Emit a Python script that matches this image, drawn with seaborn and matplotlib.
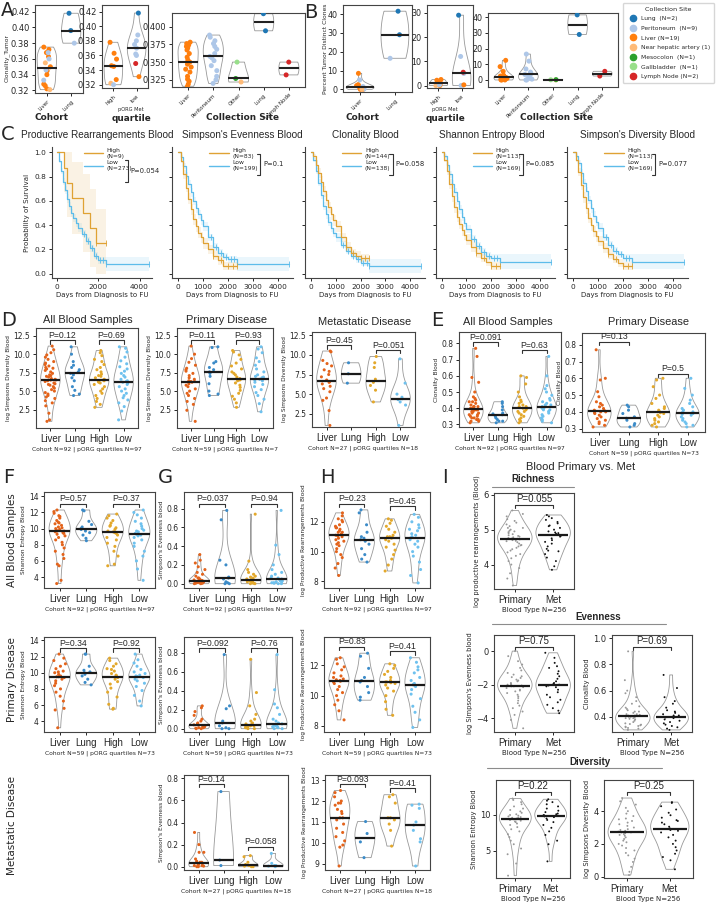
import numpy as np
import pandas as pd
import seaborn as sns
import matplotlib.pyplot as plt
from matplotlib.lines import Line2D

sns.set_theme(style="ticks")
plt.rcParams['font.family'] = ['DejaVu Sans']
plt.rcParams.update({"axes.linewidth": 0.8, "axes.edgecolor": "#444444",
                     "xtick.major.size": 2.5, "ytick.major.size": 2.5,
                     "xtick.major.width": 0.7, "ytick.major.width": 0.7,
                     "xtick.major.pad": 1.5, "ytick.major.pad": 1.5})
np.random.seed(7)
ARIAL = "Liberation Sans"

# ---------------- colours ----------------
site_colors = {"Lung": "#1f77b4", "Peritoneum": "#aec7e8", "Liver": "#ff7f0e",
               "Near hepatic artery": "#ffbb78", "Mesocolon": "#2ca02c",
               "Gallbladder": "#98df8a", "Lymph Node": "#d62728"}
site_labels = ["Lung  (N=2)", "Peritoneum  (N=9)", "Liver (N=19)", "Near hepatic artery (1)",
               "Mesocolon  (N=1)", "Gallbladder  (N=1)", "Lymph Node (N=2)"]
grp_colors = {"Liver": "#E3631B", "Lung": "#3B8BC8", "High": "#E3A82B", "Low": "#6EC1EE"}
bt_colors = {"Primary": "#999999", "Met": "#111111"}
km_high_col, km_low_col = "#DFA234", "#5DBCEA"

# ---------------- panel A / B data (value lists by collection site) ----------------
A_cohort = {"Liver": {"Liver": [0.375, 0.372, 0.368, 0.363, 0.35, 0.345, 0.34, 0.328, 0.326, 0.322],
                      "Peritoneum": [0.368, 0.36, 0.346, 0.333],
                      "Near hepatic artery": [0.355, 0.321]},
            "Lung": {"Lung": [0.418, 0.396], "Peritoneum": [0.38]}}
A_quart = {"high": {"Liver": [0.378, 0.363, 0.355, 0.346, 0.345, 0.327],
                    "Near hepatic artery": [0.322], "Peritoneum": [0.32]},
           "low": {"Lung": [0.418], "Peritoneum": [0.388, 0.38, 0.375, 0.37, 0.362, 0.36],
                   "Lymph Node": [0.349], "Liver": [0.331]}}
A_site = {"Liver": {"Liver": [0.378, 0.376, 0.374, 0.372, 0.37, 0.367, 0.362, 0.357, 0.353, 0.35,
                              0.347, 0.343, 0.34, 0.336, 0.33, 0.326, 0.323, 0.319, 0.316]},
          "Peritoneum": {"Peritoneum": [0.388, 0.385, 0.38, 0.376, 0.372, 0.368, 0.362, 0.358,
                                        0.356, 0.352, 0.345, 0.338, 0.33, 0.325, 0.32]},
          "Other": {"Near hepatic artery": [0.322], "Mesocolon": [0.327], "Gallbladder": [0.35]},
          "Lung": {"Lung": [0.418, 0.394]},
          "Lymph Node": {"Lymph Node": [0.35, 0.332]}}
B_cohort = {"Liver": {"Liver": [8.5, 2.5, 2.2, 2.0, 1.5, 1.2, 0.5, 0.0, 0.0],
                      "Peritoneum": [5.0, 1.5, 0.2], "Near hepatic artery": [0.0]},
            "Lung": {"Lung": [41.5, 29.0], "Peritoneum": [16.5]}}
B_quart = {"high": {"Liver": [2.5, 2.2, 1.5, 1.0, 0.0], "Near hepatic artery": [0.0], "Peritoneum": [0.3]},
           "low": {"Lung": [29.0], "Peritoneum": [12.0, 5.0, 0.0, 0.0], "Lymph Node": [5.5], "Liver": [0.3]}}
B_site = {"Liver": {"Liver": [12.5, 8.5, 5.5, 3.0, 2.5, 2.2, 2.0, 1.5, 1.0, 0.5, 0.0, 0.0, 0.0]},
          "Peritoneum": {"Peritoneum": [16.5, 12.0, 7.0, 5.0, 4.0, 3.5, 2.0, 1.0, 0.5, 0.0, 0.0]},
          "Other": {"Near hepatic artery": [0.0], "Mesocolon": [0.2], "Gallbladder": [0.1]},
          "Lung": {"Lung": [41.5, 29.0]},
          "Lymph Node": {"Lymph Node": [5.5, 2.5]}}

# ---------------- panel C data (Kaplan-Meier steps) ----------------
km_days_high = [0, 100, 200, 300, 400, 500, 600, 700, 800, 900, 1000, 1200, 1400, 1600, 1800, 2000, 2350]
km_days_low = [0, 100, 200, 300, 400, 500, 600, 700, 800, 900, 1000, 1200, 1400, 1600, 1800, 2000, 2350, 4450]
km_ci_high = [0, .02, .035, .04, .045, .045, .045, .045, .045, .045, .045, .04, .04, .035, .035, .035, .035]
km_ci_low = [0, .015, .025, .03, .035, .035, .035, .035, .035, .035, .035, .03, .03, .03, .03, .03, .06, .06]
km_cens_high = [1400, 1700, 2000, 2200, 2350]
km_cens_low = [1300, 1500, 1700, 1900, 2100, 2250, 2350, 4450]

c1_days_high = [0, 330, 500, 750, 1250, 1600, 1900, 2350]
c1_surv_high = [1, .875, .75, .625, .5, .375, .25, .25]
c1_ci_high = [0, .2, .28, .3, .32, .32, .28, .28]
c1_cens_high = [1900, 2350]
c1_surv_low = [1, .93, .85, .76, .69, .62, .56, .5, .46, .42, .38, .33, .27, .21, .15, .11, .08, .08]
c2_surv_high = [1, .93, .82, .71, .62, .53, .45, .39, .34, .3, .25, .2, .15, .11, .065, .065, .065]
c2_surv_low = [1, .96, .89, .81, .74, .67, .6, .54, .49, .44, .39, .3, .22, .17, .14, .12, .08, .08]
c3_surv_high = [1, .97, .9, .83, .76, .68, .61, .55, .49, .44, .39, .3, .22, .17, .15, .13, .13]
c3_surv_low = [1, .94, .85, .75, .65, .56, .49, .43, .38, .34, .3, .24, .19, .15, .12, .09, .065, .065]
c4_surv_high = [1, .94, .85, .74, .64, .55, .47, .41, .36, .32, .28, .22, .17, .13, .1, .065, .065]
c4_surv_low = [1, .97, .9, .82, .74, .67, .6, .53, .47, .42, .37, .29, .23, .18, .15, .13, .1, .1]
c5_surv_high = [1, .94, .84, .73, .63, .54, .46, .4, .35, .31, .27, .21, .16, .12, .09, .065, .065]
c5_surv_low = [1, .97, .91, .83, .75, .68, .61, .54, .48, .43, .38, .3, .24, .19, .16, .13, .1, .1]

km_titles = ["Productive Rearrangements Blood", "Simpson's Evenness Blood", "Clonality Blood",
             "Shannon Entropy Blood", "Simpson's Diversity Blood"]
km_n_high = [9, 83, 144, 113, 113]
km_n_low = [273, 199, 138, 169, 169]
km_pvals = ["P=0.054", "P=0.1", "P=0.058", "P=0.085", "P=0.077"]

# ---------------- panel D: log Simpsons Diversity Blood ----------------
D_all = {"Liver": [11.1, 10.6, 10.2, 9.9, 9.6, 9.3, 9.0, 8.8, 8.6, 8.4, 8.2, 8.0, 7.8, 7.6, 7.4, 7.2, 7.0,
                   6.9, 6.7, 6.6, 6.5, 6.4, 6.3, 6.1, 6.0, 5.8, 5.6, 5.4, 5.2, 5.0, 4.8, 4.6, 4.4, 4.2,
                   4.0, 3.7, 3.4, 3.0, 2.0, 1.1, 0.9, 6.5, 7.1, 5.9, 8.1],
         "Lung": [11.0, 10.0, 9.0, 8.5, 8.2, 7.9, 7.6, 7.4, 7.2, 6.8, 6.4, 5.6, 5.1, 4.6, 4.4],
         "High": [10.5, 10.2, 9.8, 9.3, 9.0, 8.6, 8.2, 7.9, 7.6, 7.3, 7.0, 6.8, 6.6, 6.4, 6.3, 6.1, 5.9,
                  5.6, 5.3, 5.0, 4.7, 4.4, 4.0, 3.6, 3.2, 2.8, 6.5, 6.2, 7.1],
         "Low": [11.0, 10.8, 10.3, 9.6, 9.1, 8.7, 8.3, 8.0, 7.7, 7.4, 7.1, 6.9, 6.6, 6.4, 6.2, 6.1, 5.9,
                 5.6, 5.3, 5.0, 4.7, 4.4, 4.1, 3.8, 3.4, 2.9, 2.3, 1.1, 6.3]}
D_prim = {"Liver": [11.1, 10.0, 9.4, 8.9, 8.5, 8.1, 7.7, 7.4, 7.1, 6.8, 6.6, 6.4, 6.3, 6.2, 6.0, 5.8, 5.6,
                    5.3, 5.0, 4.7, 4.4, 4.0, 3.6, 3.2, 2.4, 0.9, 6.3, 7.9],
          "Lung": [11.0, 10.9, 9.0, 8.8, 8.2, 7.6, 7.4, 7.0, 6.0, 5.0, 4.6, 4.4, 7.9],
          "High": [10.5, 10.3, 9.9, 9.3, 8.8, 8.4, 8.0, 7.6, 7.2, 6.9, 6.6, 6.5, 6.4, 6.1, 5.8, 5.5, 5.1,
                   4.7, 4.3, 3.9, 3.4, 2.8, 6.7, 7.4],
          "Low": [11.0, 10.7, 10.2, 9.5, 9.0, 8.5, 8.0, 7.6, 7.2, 6.9, 6.6, 6.5, 6.4, 6.2, 5.9, 5.6, 5.2,
                  4.8, 4.4, 3.9, 3.3, 2.2, 6.8, 7.0]}
D_met = {"Liver": [10.5, 10.4, 9.3, 8.9, 8.1, 7.9, 7.2, 6.8, 6.6, 6.5, 6.3, 6.0, 5.7, 5.3, 4.5, 4.2, 2.9,
                   1.0, 7.5, 8.6],
         "Lung": [9.0, 7.6, 6.4],
         "High": [9.8, 9.0, 8.4, 6.9, 6.5, 6.1, 5.5, 4.0],
         "Low": [9.5, 6.4, 5.0, 4.6, 4.4, 4.3, 4.0, 3.6, 1.0]}

# ---------------- panel E: Clonality Blood ----------------
E_all = {"Liver": [0.77, 0.72, 0.59, 0.56, 0.5, 0.47, 0.45, 0.44, 0.43, 0.42, 0.41, 0.41, 0.40, 0.40, 0.39,
                   0.39, 0.38, 0.38, 0.37, 0.37, 0.36, 0.36, 0.35, 0.35, 0.34, 0.34, 0.33, 0.33, 0.32,
                   0.32, 0.31, 0.4, 0.41, 0.39, 0.44, 0.46],
         "Lung": [0.44, 0.43, 0.41, 0.39, 0.37, 0.365, 0.36, 0.35, 0.34, 0.33, 0.32, 0.32, 0.31],
         "High": [0.6, 0.59, 0.55, 0.5, 0.47, 0.45, 0.43, 0.42, 0.41, 0.40, 0.40, 0.39, 0.38, 0.37, 0.36,
                  0.35, 0.34, 0.33, 0.32, 0.31, 0.41, 0.38, 0.44],
         "Low": [0.72, 0.6, 0.54, 0.52, 0.5, 0.48, 0.46, 0.45, 0.44, 0.43, 0.42, 0.41, 0.41, 0.40, 0.40,
                 0.39, 0.38, 0.37, 0.36, 0.35, 0.34, 0.33, 0.32, 0.31, 0.42, 0.39]}
E_prim = {"Liver": [0.77, 0.6, 0.59, 0.52, 0.49, 0.46, 0.45, 0.44, 0.43, 0.42, 0.41, 0.40, 0.40, 0.39,
                    0.38, 0.37, 0.36, 0.35, 0.34, 0.33, 0.32, 0.31, 0.41, 0.395],
          "Lung": [0.44, 0.43, 0.41, 0.39, 0.362, 0.35, 0.33, 0.32, 0.31, 0.37],
          "High": [0.6, 0.59, 0.55, 0.5, 0.48, 0.45, 0.43, 0.42, 0.41, 0.40, 0.395, 0.39, 0.38, 0.37,
                   0.36, 0.35, 0.34, 0.33, 0.32, 0.31],
          "Low": [0.6, 0.54, 0.5, 0.47, 0.45, 0.43, 0.42, 0.41, 0.40, 0.39, 0.385, 0.38, 0.37, 0.36,
                  0.35, 0.34, 0.33, 0.32, 0.31, 0.4]}

# ---------------- panel F: Shannon Entropy Blood ----------------
F_all = {"Liver": [12.3, 12.1, 11.9, 11.6, 11.3, 11.0, 10.8, 10.6, 10.4, 10.2, 10.0, 9.9, 9.8, 9.7, 9.6,
                   9.5, 9.3, 9.1, 8.9, 8.6, 8.3, 8.0, 7.6, 7.2, 6.8, 6.3, 5.6, 5.4, 3.6, 3.2, 9.7, 10.1,
                   9.4, 10.7, 11.5],
         "Lung": [12.3, 12.2, 10.9, 10.5, 10.2, 10.0, 9.9, 9.7, 9.5, 9.2, 8.8, 8.5],
         "High": [11.8, 11.6, 11.3, 11.0, 10.7, 10.4, 10.1, 9.9, 9.7, 9.6, 9.4, 9.2, 8.9, 8.6, 8.2, 7.8,
                  7.2, 6.6, 5.6, 5.4, 9.5, 10.3],
         "Low": [12.3, 12.0, 11.7, 11.3, 10.9, 10.6, 10.3, 10.0, 9.8, 9.6, 9.4, 9.3, 9.1, 8.9, 8.6, 8.2,
                 7.8, 7.2, 6.6, 6.0, 5.0, 3.6, 9.2, 9.7]}
F_prim = {"Liver": [12.3, 11.8, 11.5, 11.1, 10.8, 10.5, 10.2, 10.0, 9.8, 9.6, 9.5, 9.4, 9.2, 9.0, 8.7,
                    8.4, 8.0, 7.6, 7.1, 6.5, 5.6, 5.4, 3.2, 9.5, 10.1],
          "Lung": [12.3, 12.3, 10.8, 10.3, 10.0, 9.8, 9.6, 9.2, 8.8, 8.5, 10.1],
          "High": [11.8, 11.5, 11.1, 10.8, 10.5, 10.2, 9.9, 9.7, 9.5, 9.4, 9.2, 8.9, 8.6, 8.1, 7.6, 7.0,
                   6.1, 5.6, 5.5, 9.6, 10.4],
          "Low": [12.3, 11.6, 11.2, 10.8, 10.4, 10.1, 9.9, 9.7, 9.5, 9.4, 9.2, 9.0, 8.7, 8.3, 7.8, 7.2,
                  6.5, 5.9, 9.6, 9.5]}

# ---------------- panel G: Simpson's Evenness blood ----------------
G_all = {"Liver": [0.31, 0.25, 0.22, 0.18, 0.15, 0.12, 0.1, 0.08, 0.06, 0.05, 0.04, 0.035, 0.03, 0.025,
                   0.02, 0.02, 0.015, 0.01, 0.01, 0.01, 0.005, 0.005, 0.0, 0.0, 0.03, 0.04, 0.06, 0.02],
         "Lung": [0.78, 0.68, 0.25, 0.2, 0.07, 0.06, 0.05, 0.02, 0.01, 0.0, 0.0],
         "High": [0.74, 0.24, 0.15, 0.12, 0.1, 0.08, 0.07, 0.06, 0.05, 0.04, 0.03, 0.03, 0.02, 0.02,
                  0.01, 0.01, 0.005, 0.0, 0.0, 0.04],
         "Low": [0.78, 0.41, 0.31, 0.2, 0.15, 0.12, 0.1, 0.08, 0.06, 0.05, 0.04, 0.03, 0.02, 0.02, 0.01,
                 0.01, 0.005, 0.0, 0.0, 0.06, 0.03]}
G_prim = {"Liver": [0.24, 0.22, 0.18, 0.14, 0.1, 0.08, 0.06, 0.05, 0.04, 0.03, 0.03, 0.02, 0.02, 0.01,
                    0.01, 0.005, 0.0, 0.0, 0.04, 0.02],
          "Lung": [0.78, 0.24, 0.21, 0.08, 0.06, 0.03, 0.01, 0.0, 0.0],
          "High": [0.73, 0.38, 0.24, 0.15, 0.1, 0.08, 0.06, 0.05, 0.04, 0.03, 0.02, 0.02, 0.01, 0.01,
                   0.0, 0.0, 0.03],
          "Low": [0.78, 0.41, 0.26, 0.22, 0.15, 0.1, 0.08, 0.06, 0.05, 0.04, 0.03, 0.02, 0.02, 0.01,
                  0.0, 0.0, 0.03]}
G_met = {"Liver": [0.31, 0.2, 0.13, 0.13, 0.07, 0.05, 0.04, 0.03, 0.02, 0.02, 0.01, 0.01, 0.005, 0.0,
                   0.0, 0.04],
         "Lung": [0.68, 0.06, 0.01],
         "High": [0.1, 0.09, 0.04, 0.02, 0.01, 0.005, 0.0, 0.0],
         "Low": [0.12, 0.03, 0.01, 0.01, 0.005, 0.0]}

# ---------------- panel H: log Productive Rearrangements Blood ----------------
H_all = {"Liver": [12.6, 12.4, 12.2, 12.0, 11.8, 11.7, 11.6, 11.5, 11.4, 11.3, 11.2, 11.1, 11.05, 11.0,
                   10.9, 10.8, 10.7, 10.6, 10.5, 10.4, 10.2, 10.0, 9.8, 9.6, 9.2, 8.9, 8.4, 11.1, 11.3,
                   11.6, 12.1],
         "Lung": [12.8, 12.6, 11.8, 11.3, 11.0, 10.8, 10.7, 10.5, 10.2, 9.8, 9.5, 9.3, 10.9],
         "High": [12.2, 12.1, 11.9, 11.7, 11.5, 11.3, 11.1, 11.0, 10.9, 10.8, 10.7, 10.5, 10.3, 10.1,
                  9.8, 9.5, 9.1, 8.7, 11.0, 10.95],
         "Low": [12.5, 12.3, 12.0, 11.8, 11.6, 11.4, 11.2, 11.0, 10.9, 10.8, 10.7, 10.5, 10.3, 10.0,
                 9.7, 9.3, 8.8, 8.4, 7.9, 11.1, 11.5]}
H_prim = {"Liver": [12.5, 12.4, 12.1, 11.9, 11.7, 11.5, 11.3, 11.2, 11.1, 11.0, 10.95, 10.9, 10.8, 10.6,
                    10.4, 10.2, 10.0, 9.7, 9.4, 9.0, 8.4, 11.05],
          "Lung": [12.8, 12.6, 11.8, 11.2, 10.9, 10.6, 10.2, 9.9, 9.7, 11.0],
          "High": [12.1, 12.0, 11.8, 11.6, 11.4, 11.2, 11.0, 10.9, 10.85, 10.8, 10.7, 10.5, 10.3, 10.0,
                   9.6, 9.1, 8.7, 10.9],
          "Low": [12.5, 12.2, 11.9, 11.7, 11.5, 11.2, 11.0, 10.8, 10.7, 10.6, 10.4, 10.1, 9.8, 9.3, 8.9,
                  8.4, 7.9, 10.75]}
H_met = {"Liver": [12.5, 12.4, 12.2, 12.0, 11.9, 11.8, 11.6, 11.4, 11.2, 11.2, 11.1, 10.9, 10.7, 10.5,
                   10.3, 10.1, 9.9, 9.8, 8.9, 11.9, 11.5],
         "Lung": [11.02, 10.45, 10.05, 9.3],
         "High": [12.3, 12.2, 11.9, 11.2, 11.2, 11.1, 10.9, 10.6, 9.85],
         "Low": [11.85, 11.8, 11.65, 11.0, 10.85, 10.6, 10.2, 10.05, 8.9]}

# ---------------- panel I: Blood primary vs met ----------------
I_rich = {"Primary": [5.55, 5.45, 5.38, 5.3, 5.25, 5.2, 5.15, 5.1, 5.05, 5.0, 4.97, 4.93, 4.9, 4.87, 4.84,
                      4.8, 4.78, 4.76, 4.74, 4.72, 4.7, 4.67, 4.64, 4.6, 4.56, 4.52, 4.48, 4.44, 4.4,
                      4.35, 4.3, 4.25, 4.18, 4.1, 4.0, 3.9, 3.75, 3.6, 3.4, 4.75, 4.82, 4.68, 4.95, 5.05,
                      4.55],
          "Met": [5.42, 5.38, 5.33, 5.28, 5.22, 5.18, 5.12, 5.05, 5.0, 4.95, 4.92, 4.88, 4.85, 4.83, 4.8,
                  4.75, 4.7, 4.65, 4.6, 4.52, 4.45, 4.38, 4.3, 4.2, 4.1, 3.95, 3.85, 4.9, 5.1, 4.4]}
I_even = {"Primary": [0.0, -0.3, -0.6, -0.8, -1.0, -1.15, -1.3, -1.4, -1.5, -1.6, -1.7, -1.8, -1.9, -1.95,
                      -2.0, -2.05, -2.1, -2.15, -2.2, -2.3, -2.4, -2.5, -2.6, -2.7, -2.8, -2.95, -3.1,
                      -3.25, -3.4, -3.6, -3.8, -4.1, -4.6, -2.0, -2.1, -1.75, -2.35, -1.55],
          "Met": [-0.1, -0.4, -0.7, -0.9, -1.0, -1.2, -1.35, -1.5, -1.65, -1.8, -1.9, -2.0, -2.05, -2.15,
                  -2.3, -2.45, -2.6, -2.75, -2.9, -3.05, -3.2, -3.4, -3.55, -3.7, -1.95, -2.1]}
I_clon = {"Primary": [0.9, 0.68, 0.6, 0.58, 0.55, 0.52, 0.5, 0.48, 0.46, 0.45, 0.44, 0.43, 0.42, 0.415,
                      0.41, 0.405, 0.4, 0.395, 0.39, 0.385, 0.38, 0.37, 0.36, 0.35, 0.345, 0.34, 0.335,
                      0.33, 0.325, 0.32, 0.315, 0.31, 0.3, 0.41, 0.4, 0.42, 0.39, 0.44, 0.47],
          "Met": [0.72, 0.62, 0.55, 0.52, 0.5, 0.47, 0.45, 0.43, 0.42, 0.41, 0.4, 0.395, 0.39, 0.38, 0.37,
                  0.36, 0.35, 0.34, 0.33, 0.32, 0.31, 0.3, 0.4, 0.41, 0.44]}
I_shan = {"Primary": [12.3, 12.1, 11.8, 11.5, 11.2, 10.9, 10.7, 10.5, 10.3, 10.1, 9.9, 9.8, 9.7, 9.6, 9.5,
                      9.4, 9.3, 9.2, 9.0, 8.8, 8.6, 8.3, 8.0, 7.7, 7.3, 6.9, 6.4, 5.9, 5.3, 4.5, 3.2, 1.5,
                      9.4, 9.6, 10.0, 9.1],
          "Met": [12.2, 12.0, 11.8, 11.5, 11.2, 10.9, 10.6, 10.4, 10.2, 10.0, 9.9, 9.8, 9.7, 9.5, 9.3,
                  9.0, 8.6, 8.2, 7.7, 7.2, 6.4, 5.9, 3.5, 9.8, 10.1]}
I_simp = {"Primary": [4.8, 4.6, 4.4, 4.2, 4.0, 3.85, 3.7, 3.55, 3.4, 3.3, 3.2, 3.1, 3.0, 2.9, 2.8, 2.75,
                      2.7, 2.65, 2.6, 2.5, 2.4, 2.3, 2.2, 2.1, 2.0, 1.9, 1.75, 1.6, 1.45, 1.3, 1.1, 0.9,
                      0.6, 0.3, 0.1, 2.7, 2.85, 3.5, 2.55],
          "Met": [4.55, 4.5, 4.3, 4.1, 3.9, 3.75, 3.6, 3.45, 3.3, 3.2, 3.05, 2.95, 2.85, 2.8, 2.7, 2.55,
                  2.4, 2.2, 2.0, 1.8, 1.6, 1.4, 1.2, 1.0, 0.45, 2.9, 3.4]}

# ---------------- figure ----------------
W, H = 717, 905
fig = plt.figure(figsize=(W / 100, H / 100), dpi=100)


def add_ax(x0, y0, x1, y1):
    return fig.add_axes([x0 / W, 1 - y1 / H, (x1 - x0) / W, (y1 - y0) / H])


def ftext(x, y, s, **kw):
    kw.setdefault("ha", "center")
    kw.setdefault("va", "center")
    fig.text(x / W, 1 - y / H, s, **kw)


def bracket(ax, x1, x2, yf, label, fs=6.2):
    tr = ax.get_xaxis_transform()
    ax.plot([x1, x1, x2, x2], [yf - 0.035, yf, yf, yf - 0.035], color="#333333", lw=0.8,
            transform=tr, clip_on=False)
    ax.text((x1 + x2) / 2, yf + 0.005, label, transform=tr, ha="center", va="bottom",
            fontsize=fs, family=ARIAL)


def violin_panel(ax, groups, pal, ylim, yticks, ylabel, xlabel, brackets, size=2.2, medlw=1.6,
                 xfs=7, yfs=5.5, lfs=4.2, pfs=6.2, width=0.8):
    order = list(groups)
    df = pd.DataFrame([(g, v) for g in order for v in groups[g]], columns=["grp", "val"])
    sns.violinplot(data=df, x="grp", y="val", order=order, ax=ax, fill=False, inner=None, cut=0,
                   color="0.6", linewidth=0.6, density_norm="width", width=width)
    sns.stripplot(data=df, x="grp", y="val", order=order, hue="grp", palette=pal, ax=ax,
                  size=size, jitter=0.22, legend=False, zorder=3)
    for i, g in enumerate(order):
        ax.hlines(np.median(groups[g]), i - 0.4, i + 0.4, color="k", lw=medlw, zorder=5)
    ax.set_ylim(*ylim)
    ax.set_yticks(yticks)
    ax.set_ylabel(ylabel, fontsize=lfs, labelpad=2)
    ax.set_xlabel(xlabel, fontsize=lfs + 0.1, labelpad=2)
    ax.tick_params(axis="x", labelsize=xfs)
    ax.tick_params(axis="y", labelsize=yfs)
    for lab in ax.get_xticklabels():
        lab.set_fontfamily(ARIAL)
    for b in brackets:
        bracket(ax, *b, fs=pfs)


def site_panel(ax, groups, ylim, yticks, ylabel=None, yfs=6.3):
    order = list(groups)
    rows = [(g, s, v) for g in order for s, vals in groups[g].items() for v in vals]
    df = pd.DataFrame(rows, columns=["grp", "site", "val"])
    sns.violinplot(data=df, x="grp", y="val", order=order, ax=ax, fill=False, inner=None, cut=0,
                   color="0.6", linewidth=0.6, density_norm="width", width=0.8)
    sns.stripplot(data=df, x="grp", y="val", order=order, hue="site", palette=site_colors, ax=ax,
                  size=3.6, jitter=0.15, legend=False, zorder=3)
    for i, g in enumerate(order):
        vals = [v for vs in groups[g].values() for v in vs]
        ax.hlines(np.median(vals), i - 0.4, i + 0.4, color="#222222", lw=1.5, zorder=5)
    ax.set_ylim(*ylim)
    ax.set_yticks(yticks)
    ax.set_xlabel("")
    ax.set_ylabel(ylabel if ylabel else "", fontsize=4.3, labelpad=1)
    ax.tick_params(axis="y", labelsize=yfs)
    ax.tick_params(axis="x", labelsize=4)
    for lab in ax.get_xticklabels():
        lab.set_rotation(45)
        lab.set_ha("right")
        lab.set_rotation_mode("anchor")


# ---- A ----
ax = add_ax(35, 5, 83, 93)
site_panel(ax, A_cohort, (0.3167, 0.4285), [0.32, 0.34, 0.36, 0.38, 0.40, 0.42], "Clonality_Tumor", yfs=6)
ax.yaxis.set_label_coords(-0.52, 0.4)
ax = add_ax(102, 5, 148, 88)
site_panel(ax, A_quart, (0.3155, 0.429), [0.32, 0.34, 0.36, 0.38, 0.40, 0.42], yfs=6)
ax = add_ax(172, 13, 305, 87)
site_panel(ax, A_site, (0.315, 0.419), [0.325, 0.350, 0.375, 0.400], yfs=6)

# ---- B ----
ax = add_ax(343, 5, 412, 92)
site_panel(ax, B_cohort, (-1.4, 44.8), [0, 10, 20, 30, 40], "Percent Tumor Distinct Clones", yfs=5.8)
ax.yaxis.set_label_coords(-0.22, 0.5)
ax = add_ax(427, 5, 473, 88)
site_panel(ax, B_quart, (-1.0, 33.2), [0, 10, 20, 30], yfs=5.8)
ax = add_ax(488, 13, 618, 87)
site_panel(ax, B_site, (-4.5, 42.7), [0, 10, 20, 30, 40], yfs=5.8)

for xc, xq, xs in [(51, 131, 243), (362, 445, 557)]:
    ftext(xc, 117, "Cohort", fontsize=6.4, weight="bold")
    ftext(xq, 110, "pORG Met", fontsize=3.6)
    ftext(xq, 118, "quartile", fontsize=6.4, weight="bold")
    ftext(xs, 117, "Collection Site", fontsize=6.4, weight="bold")

handles = [Line2D([0], [0], marker="o", ls="", markerfacecolor=c, markeredgecolor=c, ms=4.5)
           for c in site_colors.values()]
fig.legend(handles, site_labels, title="Collection Site", loc="upper left",
           bbox_to_anchor=(623 / W, 1 - 3 / H), fontsize=4.3, title_fontsize=4.6, frameon=True,
           borderpad=0.6, labelspacing=0.75, handletextpad=0.4, borderaxespad=0.0,
           edgecolor="#cccccc")

# ---- C ----
c_boxes = [(52, 152), (172, 293), (305, 425), (436, 555), (567, 688)]
c_title_x = [97, 242, 365, 492, 637]
high_curves = [(c1_days_high, c1_surv_high, c1_ci_high, c1_cens_high),
               (km_days_high, c2_surv_high, km_ci_high, km_cens_high),
               (km_days_high, c3_surv_high, km_ci_high, km_cens_high),
               (km_days_high, c4_surv_high, km_ci_high, km_cens_high),
               (km_days_high, c5_surv_high, km_ci_high, km_cens_high)]
low_curves = [c1_surv_low, c2_surv_low, c3_surv_low, c4_surv_low, c5_surv_low]


def km_curve(ax, days, surv, ci, cens, color):
    days, surv, ci = np.array(days), np.array(surv), np.array(ci)
    ax.fill_between(days, np.clip(surv - ci, 0, 1), np.clip(surv + ci, 0, 1), step="post",
                    color=color, alpha=0.13, lw=0)
    ax.step(days, surv, where="post", color=color, lw=0.9)
    idx = np.searchsorted(days, cens, side="right") - 1
    ax.plot(cens, surv[idx], ls="", marker="|", ms=4.5, mew=0.6, color=color)


for i, (x0, x1) in enumerate(c_boxes):
    ax = add_ax(x0, 147, x1, 278)
    sns.despine(ax=ax)
    d, s, ci, cens = high_curves[i]
    km_curve(ax, km_days_low, low_curves[i], km_ci_low, km_cens_low, km_low_col)
    km_curve(ax, d, s, ci, cens, km_high_col)
    ax.set_ylim(-0.035, 1.045)
    ax.set_xlim(-240, 4600)
    ax.set_yticks([0, 0.2, 0.4, 0.6, 0.8, 1.0])
    if i == 0:
        ax.set_xticks([0, 2000, 4000])
        ax.set_ylabel("Probability of Survival", fontsize=5.1, labelpad=3)
    else:
        ax.set_xticks([0, 1000, 2000, 3000, 4000])
        ax.set_yticklabels([])
    ax.tick_params(labelsize=5.3)
    ax.set_xlabel("Days from Diagnosis to FU", fontsize=5, labelpad=2)
    hl = [Line2D([0], [0], color=km_high_col, lw=1), Line2D([0], [0], color=km_low_col, lw=1)]
    labs = [f"High\n(N={km_n_high[i]})", f"Low\n(N={km_n_low[i]})"]
    ax.legend(hl, labs, loc="upper left", bbox_to_anchor=(0.28, 1.02), frameon=False,
              fontsize=4.3, labelspacing=0.25, handlelength=3.2, borderpad=0.1, handletextpad=0.6)
    bx, ytop, ybot = (0.76, 0.9, 0.73) if i == 0 else (0.73, 0.95, 0.79)
    ax.plot([bx - 0.03, bx, bx, bx - 0.03], [ytop, ytop, ybot, ybot], color="#333333", lw=0.8,
            transform=ax.transAxes, clip_on=False)
    ax.text(bx + 0.025, (ytop + ybot) / 2, km_pvals[i], transform=ax.transAxes, fontsize=4.9,
            va="center", ha="left")
    ftext(c_title_x[i], 135, km_titles[i], fontsize=7.2, family=ARIAL)

# ---- D ----
ax = add_ax(36, 328, 138, 428)
violin_panel(ax, D_all, grp_colors, (0.0, 13.55), [2.5, 5.0, 7.5, 10.0, 12.5],
             "log Simpsons Diversity Blood", "Cohort N=92 | pORG quartiles N=97",
             [(0, 1, 0.88, "P=0.12"), (2, 3, 0.88, "P=0.69")])
ax = add_ax(177, 328, 273, 428)
violin_panel(ax, D_prim, grp_colors, (0.0, 13.55), [2.5, 5.0, 7.5, 10.0, 12.5],
             "log Simpsons Diversity Blood", "Cohort N=59 | pORG quartiles N=7",
             [(0, 1, 0.88, "P=0.11"), (2, 3, 0.88, "P=0.93")])
ax = add_ax(312, 332, 415, 427)
violin_panel(ax, D_met, grp_colors, (0.8, 12.93), [2.5, 5.0, 7.5, 10.0, 12.5],
             "log Simpsons Diversity Blood", "Cohort N=27 | pORG quartiles N=18",
             [(0, 1, 0.86, "P=0.45"), (2, 3, 0.81, "P=0.051")])

# ---- E ----
ax = add_ax(459, 332, 561, 427)
violin_panel(ax, E_all, grp_colors, (0.284, 0.871), [0.3, 0.4, 0.5, 0.6, 0.7, 0.8],
             "Clonality Blood", "Cohort N=92 | pORG quartiles N=97",
             [(0, 1, 0.89, "P=0.091"), (2, 3, 0.81, "P=0.63")])
ax = add_ax(582, 333, 705, 432)
violin_panel(ax, E_prim, grp_colors, (0.28, 0.87), [0.3, 0.4, 0.5, 0.6, 0.7, 0.8],
             "Clonality Blood", "Cohort N=59 | pORG quartiles N=73",
             [(0, 1, 0.91, "P=0.13"), (2, 3, 0.59, "P=0.5")])

# ---- F / G / H ----
xl = ["Cohort N=92 | pORG quartiles N=97", "Cohort N=59 | pORG quartiles N=73",
      "Cohort N=27 | pORG quartiles N=18"]

ax = add_ax(44, 492, 155, 588)
violin_panel(ax, F_all, grp_colors, (2.65, 14.53), [4, 6, 8, 10, 12, 14], "Shannon Entropy Blood", xl[0],
             [(0, 1, 0.88, "P=0.57"), (2, 3, 0.88, "P=0.37")])
ax = add_ax(44, 637, 155, 732)
violin_panel(ax, F_prim, grp_colors, (2.68, 14.41), [4, 6, 8, 10, 12, 14], "Shannon Entropy Blood", xl[1],
             [(0, 1, 0.88, "P=0.34"), (2, 3, 0.88, "P=0.92")])

ax = add_ax(184, 492, 292, 588)
violin_panel(ax, G_all, grp_colors, (-0.046, 0.976), [0.0, 0.2, 0.4, 0.6, 0.8], "Simpson's Evenness blood",
             xl[0], [(0, 1, 0.88, "P=0.037"), (2, 3, 0.88, "P=0.94")])
ax = add_ax(184, 637, 292, 732)
violin_panel(ax, G_prim, grp_colors, (-0.035, 0.965), [0.0, 0.2, 0.4, 0.6, 0.8], "Simpson's Evenness blood",
             xl[1], [(0, 1, 0.88, "P=0.092"), (2, 3, 0.88, "P=0.76")])
ax = add_ax(184, 775, 288, 870)
violin_panel(ax, G_met, grp_colors, (-0.03, 0.83), [0.0, 0.2, 0.4, 0.6, 0.8], "Simpson's Evenness blood",
             xl[2], [(0, 1, 0.905, "P=0.14"), (2, 3, 0.245, "P=0.058")])

ax = add_ax(324, 492, 430, 588)
violin_panel(ax, H_all, grp_colors, (7.56, 14.0), [8, 10, 12], "log Productive Rearrangements Blood",
             xl[0], [(0, 1, 0.88, "P=0.23"), (2, 3, 0.85, "P=0.45")])
ax = add_ax(324, 637, 430, 732)
violin_panel(ax, H_prim, grp_colors, (7.6, 13.87), [8, 10, 12], "log Productive Rearrangements Blood",
             xl[1], [(0, 1, 0.895, "P=0.83"), (2, 3, 0.85, "P=0.41")])
ax = add_ax(325, 775, 430, 870)
violin_panel(ax, H_met, grp_colors, (8.71, 13.24), [9, 10, 11, 12, 13], "log Productive Rearrangements Blood",
             xl[2], [(0, 1, 0.905, "P=0.093"), (2, 3, 0.86, "P=0.41")])

# ---- I ----
i_kw = dict(size=1.4, medlw=1.6, width=0.9, xfs=7, yfs=6, lfs=4.9, pfs=7)
ax = add_ax(494, 493, 574, 589)
violin_panel(ax, I_rich, bt_colors, (3.30, 6.05), [4, 5, 6], "log productive rearrangements (Blood)",
             "Blood Type N=256", [(0, 1, 0.88, "P=0.055")], **i_kw)
ax = add_ax(494, 635, 574, 732)
violin_panel(ax, I_even, bt_colors, (-4.82, 0.96), [-4, -2, 0], "log Simpson's Evenness blood",
             "Blood Type N=256", [(0, 1, 0.88, "P=0.75")], **i_kw)
ax = add_ax(612, 635, 692, 732)
violin_panel(ax, I_clon, bt_colors, (0.284, 1.025), [0.4, 0.6, 0.8, 1.0], "Clonality Blood",
             "Blood Type N=256", [(0, 1, 0.88, "P=0.69")], **i_kw)
ax = add_ax(496, 780, 570, 878)
violin_panel(ax, I_shan, bt_colors, (1.17, 14.9), [5, 10], "Shannon Entropy Blood",
             "Blood Type N=256", [(0, 1, 0.88, "P=0.22")], **i_kw)
ax = add_ax(604, 780, 693, 878)
violin_panel(ax, I_simp, bt_colors, (-0.08, 5.9), [0, 2, 4], "log Simpsons Diversity Blood",
             "Blood Type N=256", [(0, 1, 0.88, "P=0.25")], **i_kw)

ftext(581, 467, "Blood Primary vs. Met", fontsize=8, family=ARIAL)
for tx, ty, t, lx0, lx1, ly in [(533, 479, "Richness", 492, 574, 487),
                                (598, 617, "Evenness", 492, 666, 624),
                                (590, 762, "Diversity", 487, 662, 768)]:
    ftext(tx, ty, t, fontsize=7, weight="bold", family=ARIAL)
    fig.add_artist(Line2D([lx0 / W, lx1 / W], [1 - ly / H, 1 - ly / H], color="0.55", lw=0.8))

# ---- titles, panel letters, row labels ----
for x, y, t in [(88, 320, "All Blood Samples"), (227, 320, "Primary Disease"),
                (365, 322, "Metastatic Disease"), (508, 322, "All Blood Samples"),
                (648, 322, "Primary Disease")]:
    ftext(x, y, t, fontsize=7.9, family=ARIAL)
for x, y, t in [(7, 11, "A"), (311, 12, "B"), (8, 135, "C"), (9, 320, "D"), (437, 320, "E"),
                (9, 477, "F"), (165, 477, "G"), (327, 477, "H"), (445, 477, "I")]:
    ftext(x, y, t, fontsize=13.5 if t == "A" else 14)
for y, t in [(540, "All Blood Samples"), (680, "Primary Disease"), (825, "Metastatic Disease")]:
    ftext(12, y, t, fontsize=7.5, rotation=90)

fig.savefig("out.png", dpi=100)
